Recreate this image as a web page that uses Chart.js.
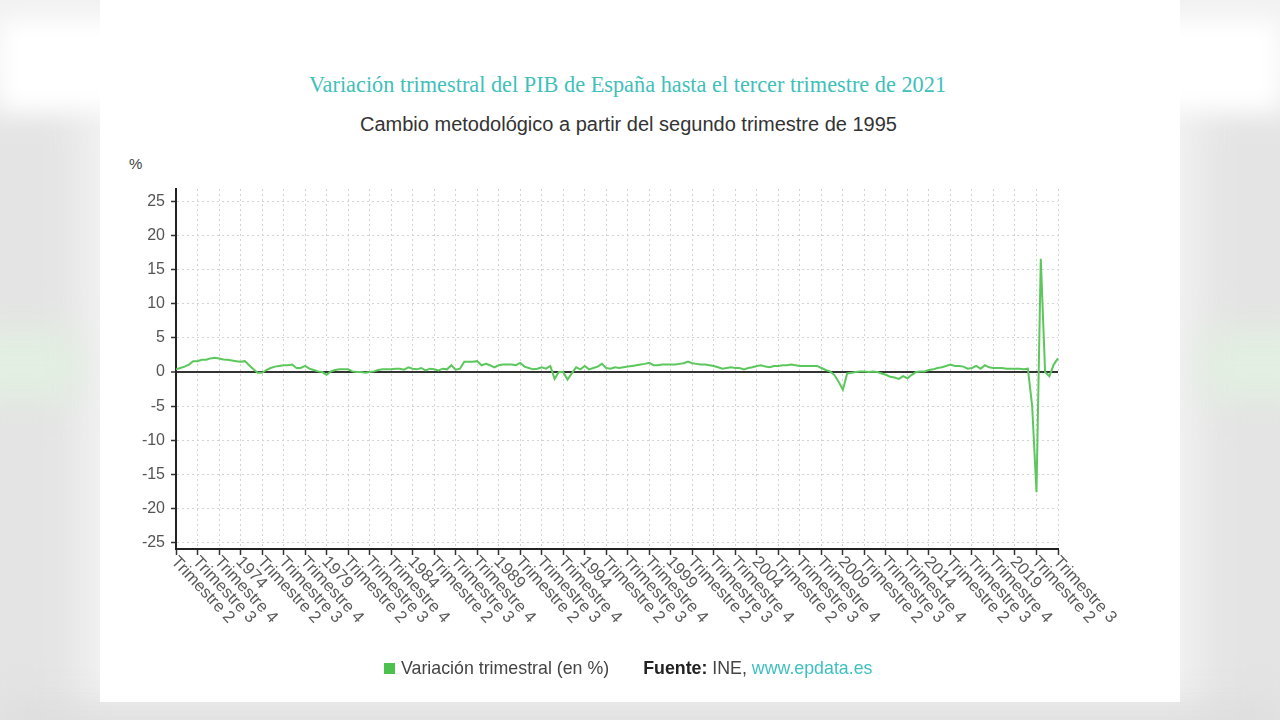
<!DOCTYPE html>
<html>
<head>
<meta charset="utf-8">
<script src="https://cdn.jsdelivr.net/npm/chart.js@4/dist/chart.umd.min.js"></script>
<style>
  html, body { margin:0; padding:0; }
  body { width:1280px; height:720px; position:relative; overflow:hidden; background:#f2f2f2; font-family:"Liberation Sans", Arial, sans-serif; }
  .blur { position:absolute; filter:blur(18px); }
  #card { position:absolute; left:100px; top:0; width:1080px; height:702px; background:#fff; }
  #topband { position:absolute; left:0; top:20px; width:1280px; height:90px; background:#fff; filter:blur(12px); }
  #title { position:absolute; left:0; width:1255px; top:72px; text-align:center; font-family:"Liberation Serif","Times New Roman",serif; font-size:22.3px; color:#3fc0bb; }
  #subtitle { position:absolute; left:0; width:1257px; top:113px; text-align:center; font-size:20px; color:#333; }
  #pct { position:absolute; left:129px; top:155px; font-size:15px; color:#444; }
  #legend { position:absolute; left:384px; top:658px; font-size:17.8px; color:#444; white-space:nowrap; }
  #legend .sq { display:inline-block; width:11px; height:11px; background:#4cc24c; margin-right:6px; vertical-align:0px; }
  #legend b { color:#222; margin-left:34px; }
  #legend .lnk { color:#3fbfbf; }
  canvas#c { position:absolute; left:0; top:0; }
</style>
</head>
<body>
<div class="blur" style="left:-40px;top:110px;width:120px;height:640px;background:#e4e4e4;"></div>
<div class="blur" style="left:1200px;top:110px;width:120px;height:640px;background:#e4e4e4;"></div>
<div class="blur" style="left:-40px;top:330px;width:120px;height:70px;background:#e2efe1;"></div>
<div class="blur" style="left:1200px;top:330px;width:120px;height:70px;background:#e2efe1;"></div>
<div class="blur" style="left:150px;top:-20px;width:980px;height:30px;background:#d8dcd8;"></div>
<div class="blur" style="left:0;top:705px;width:1280px;height:40px;background:#dcdcdc;"></div>
<div id="topband"></div>
<div id="card"></div>
<div id="title">Variación trimestral del PIB de España hasta el tercer trimestre de 2021</div>
<div id="subtitle">Cambio metodológico a partir del segundo trimestre de 1995</div>
<div id="pct">%</div>
<canvas id="c" width="1280" height="720"></canvas>
<div id="legend"><span class="sq"></span>Variación trimestral (en %)<b>Fuente:</b> INE, <span class="lnk">www.epdata.es</span></div>
<script>
// Period: 1970 Q2 .. 2021 Q3
const firstYear = 1970, firstQuarter = 2;
const lastYear = 2021, lastQuarter = 3;

// Quarterly GDP variation (%)
const gdp1970s = [0.4, 0.6, 0.8, 1.1, 1.6, 1.6, 1.8, 1.8, 2.0, 2.1, 2.0, 1.85, 1.8, 1.7, 1.6, 1.5, 1.6, 1.0, 0.4, -0.1, -0.1, 0.3, 0.6, 0.8, 0.9, 1.0, 1.0, 1.1, 0.6, 0.6, 0.9, 0.5, 0.3, 0.1, 0.0, -0.4, 0.1, 0.3, 0.4];
const gdp1980s = [0.4, 0.4, 0.1, 0.0, 0.0, -0.1, 0.0, 0.1, 0.3, 0.4, 0.4, 0.4, 0.5, 0.5, 0.35, 0.7, 0.5, 0.4, 0.6, 0.25, 0.5, 0.4, 0.25, 0.5, 0.4, 1.0, 0.35, 0.5, 1.5, 1.5, 1.5, 1.6, 1.0, 1.2, 1.0, 0.7, 1.0, 1.1, 1.1, 1.1];
const gdp1990s = [1.0, 1.35, 0.8, 0.6, 0.4, 0.5, 0.7, 0.5, 0.9, -1.0, 0.0, 0.0, -1.1, -0.2, 0.7, 0.4, 0.9, 0.4, 0.6, 0.8, 1.2, 0.6, 0.5, 0.7, 0.6, 0.7, 0.8, 0.9, 1.0, 1.1, 1.2, 1.35, 1.0, 1.0, 1.1, 1.1, 1.1, 1.1, 1.2, 1.3];
const gdp2000s = [1.55, 1.3, 1.2, 1.1, 1.1, 1.0, 0.9, 0.7, 0.5, 0.6, 0.7, 0.6, 0.6, 0.4, 0.6, 0.7, 0.9, 1.0, 0.8, 0.7, 0.9, 0.9, 1.0, 1.0, 1.1, 1.0, 0.9, 0.9, 0.9, 0.9, 0.9, 0.6, 0.3, 0.1, -0.4, -1.4, -2.6, -0.2, -0.1, 0.0];
const gdp2010s = [0.1, 0.1, 0.0, 0.1, 0.0, -0.2, -0.4, -0.7, -0.8, -1.0, -0.6, -0.9, -0.4, 0.0, 0.1, 0.1, 0.3, 0.4, 0.6, 0.7, 0.9, 1.1, 0.9, 0.9, 0.8, 0.5, 0.6, 0.9, 0.5, 1.0, 0.7, 0.6, 0.6, 0.6, 0.5, 0.5, 0.5, 0.5, 0.4, 0.5];
const gdp2020s = [-5.0, -17.6, 16.6, 0.0, -0.6, 1.1, 2.0];

const yTicks = [-25, -20, -15, -10, -5, 0, 5, 10, 15, 20, 25];
const labelEvery = 5;

const values = [].concat(gdp1970s, gdp1980s, gdp1990s, gdp2000s, gdp2010s, gdp2020s);
const labels = [];
for (let y = firstYear; y <= lastYear; y++) {
  for (let q = 1; q <= 4; q++) {
    if (y === firstYear && q < firstQuarter) continue;
    if (y === lastYear && q > lastQuarter) continue;
    labels.push(q === 1 ? String(y) : 'Trimestre ' + q);
  }
}

const xLabelsPlugin = {
  id: 'xLabels',
  afterDraw(chart) {
    const xs = chart.scales.x;
    const ctx = chart.ctx;
    ctx.save();
    ctx.font = '16.8px "Liberation Sans", Arial, sans-serif';
    ctx.fillStyle = '#5a5a5a';
    ctx.textAlign = 'left';
    ctx.textBaseline = 'middle';
    xs.ticks.forEach((t, j) => {
      const x = xs.getPixelForTick(j);
      ctx.save();
      ctx.translate(x - 2, xs.top + 10);
      ctx.rotate(47 * Math.PI / 180);
      ctx.fillText(chart.data.labels[t.value], 0, 0);
      ctx.restore();
    });
    ctx.restore();
  }
};

new Chart(document.getElementById('c'), {
  type: 'line',
  data: {
    labels: labels,
    datasets: [{
      label: 'Variación trimestral (en %)',
      data: values,
      borderColor: '#5cc75c',
      backgroundColor: '#4cc24c',
      borderWidth: 2,
      pointRadius: 0,
      tension: 0,
      fill: false
    }]
  },
  options: {
    responsive: false,
    animation: false,
    events: [],
    layout: { padding: { left: 106, right: 222, top: 189, bottom: 163 } },
    plugins: { legend: { display: false }, title: { display: false }, tooltip: { enabled: false } },
    scales: {
      x: {
        type: 'category',
        offset: false,
        ticks: { display: false, autoSkip: false },
        afterBuildTicks: (scale) => { scale.ticks = scale.ticks.filter(t => t.value % labelEvery === 0); },
        afterFit: (scale) => { scale.height = 8; },
        grid: { color: '#d3d3d3', lineWidth: 1, drawTicks: true, tickLength: 6, tickColor: '#333', tickWidth: 1.5, offset: false },
        border: { display: true, color: '#222', width: 2, dash: [2, 3] }
      },
      y: {
        min: -25.9,
        max: 26.8,
        afterBuildTicks: (scale) => { scale.ticks = yTicks.map(v => ({ value: v })); },
        afterFit: (scale) => { scale.width = 70; },
        ticks: { color: '#555', font: { size: 16, family: '"Liberation Sans", Arial, sans-serif' }, padding: 6 },
        grid: {
          color: (c) => (c.tick && c.tick.value === 0) ? '#333' : '#d3d3d3',
          lineWidth: (c) => (c.tick && c.tick.value === 0) ? 2 : 1,
          drawTicks: true, tickLength: 5, tickColor: '#333', tickWidth: 1.5
        },
        border: { display: true, color: '#222', width: 2, dash: (c) => (c.tick && c.tick.value === 0) ? [] : [2, 3] }
      }
    }
  },
  plugins: [xLabelsPlugin]
});
</script>
</body>
</html>
